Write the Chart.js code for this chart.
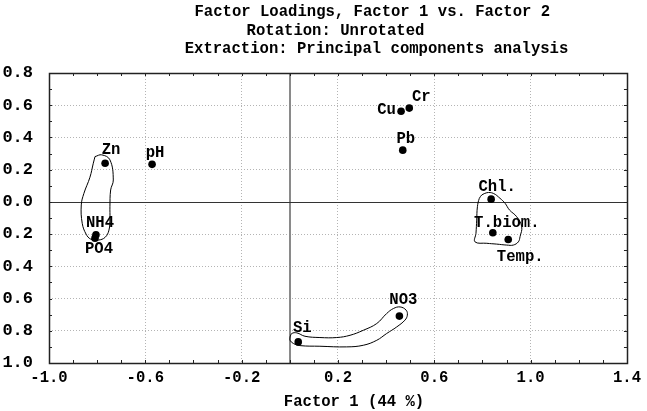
<!DOCTYPE html>
<html><head><meta charset="utf-8">
<script src="https://cdn.jsdelivr.net/npm/chart.js@4/dist/chart.umd.min.js"></script>
<style>
html,body{margin:0;padding:0;background:#fff;overflow:hidden;}
#wrap{position:relative;width:647px;height:411px;overflow:hidden;background:#fff;}
#c{position:absolute;left:-20px;top:0;}
</style></head><body>
<div id="wrap"><canvas id="c" width="667" height="411"></canvas></div>
<script>
// ---- data ----
const variables = ['Zn','pH','NH4','PO4','Cu','Cr','Pb','Chl.','T.biom.','Temp.','Si','NO3'];
const factor1 = [-0.767,-0.572,-0.805,-0.809,0.462,0.496,0.469,0.836,0.843,0.907,0.035,0.455];
const factor2 = [0.240,0.233,-0.204,-0.225,0.563,0.582,0.321,0.017,-0.192,-0.233,-0.869,-0.709];
const xTickLabels = ['-1.0','-0.6','-0.2','0.2','0.6','1.0','1.4'];
const yTickLabels = ['0.8','0.6','0.4','0.2','0.0','-0.2','-0.4','-0.6','-0.8','-1.0'];
const titleLines = ['Factor Loadings, Factor 1 vs. Factor 2','Rotation: Unrotated','Extraction: Principal components analysis'];
const xAxisTitle = 'Factor 1 (44 %)';
// hand-drawn group envelopes (data coordinates)
const envZnX = [-0.809,-0.781,-0.747,-0.733,-0.744,-0.747,-0.747,-0.751,-0.767,-0.795,-0.827,-0.846,-0.862,-0.866,-0.855,-0.830,-0.816,-0.809];
const envZnY = [0.281,0.292,0.261,0.136,0.074,-0.030,-0.102,-0.175,-0.220,-0.237,-0.231,-0.200,-0.133,-0.019,0.053,0.153,0.240,0.281];
const envChlX = [0.797,0.818,0.845,0.873,0.894,0.912,0.942,0.963,0.956,0.949,0.928,0.901,0.859,0.818,0.769,0.773,0.776,0.779,0.787,0.797];
const envChlY = [0.043,0.057,0.053,0.022,-0.009,-0.050,-0.092,-0.154,-0.216,-0.248,-0.268,-0.268,-0.262,-0.257,-0.248,-0.195,-0.113,-0.030,0.022,0.043];
const envSiX = [0.001,0.008,0.029,0.063,0.125,0.195,0.250,0.305,0.361,0.402,0.430,0.458,0.483,0.488,0.478,0.444,0.402,0.361,0.305,0.236,0.125,0.042,0.015,0.001,0.001];
const envSiY = [-0.838,-0.817,-0.813,-0.834,-0.842,-0.842,-0.828,-0.797,-0.755,-0.693,-0.662,-0.652,-0.672,-0.703,-0.734,-0.776,-0.817,-0.859,-0.890,-0.900,-0.896,-0.892,-0.879,-0.859,-0.838];

// ---- styles ----
const FAMILY = "'Liberation Mono','Courier New',monospace";
const FONT = "bold 15.6px " + FAMILY;
const labelOffsets = {'Zn':[6,-13],'pH':[3,-11],'NH4':[4,-12],'PO4':[4,11],'Cu':[-14.5,-1],'Cr':[12,-11],'Pb':[3,-11],'Chl.':[6,-12],'T.biom.':[14,-10],'Temp.':[12,18],'Si':[4,-14],'NO3':[4,-16]};
const titleCenters = [[392.3,12],[355.5,31],[396.5,49]];
const xTitlePos = [374,402];

const toXY = (xs, ys) => xs.map((v,i)=>({x:v,y:ys[i]}));
const findLabel = (arr, v) => arr.find(s => Math.abs(parseFloat(s) - v) < 1e-6);

function envelope(xs, ys){
  return {data: toXY(xs, ys), showLine:true, pointRadius:0, pointHoverRadius:0, borderColor:'#000', borderWidth:1, tension:0.4, fill:false};
}

const decor = {
  id:'decor',
  beforeDatasetsDraw(chart){
    const {ctx, chartArea:a, scales:{x,y}} = chart;
    ctx.save();
    const x0 = Math.round(x.getPixelForValue(0));
    const y0 = Math.round(y.getPixelForValue(0)) + 0.5;
    ctx.strokeStyle = '#8a8a8a'; ctx.lineWidth = 2;
    ctx.beginPath(); ctx.moveTo(x0, a.top); ctx.lineTo(x0, a.bottom); ctx.stroke();
    ctx.strokeStyle = '#333'; ctx.lineWidth = 1;
    ctx.beginPath(); ctx.moveTo(a.left, y0); ctx.lineTo(a.right, y0); ctx.stroke();
    ctx.restore();
  },
  afterDraw(chart){
    const {ctx, chartArea:a, scales:{x,y}} = chart;
    ctx.save();
    ctx.strokeStyle = '#222'; ctx.lineWidth = 1.5;
    ctx.strokeRect(Math.round(a.left)+0.5, Math.round(a.top)+0.5, Math.round(a.right-a.left), Math.round(a.bottom-a.top));
    ctx.lineWidth = 1; ctx.strokeStyle = '#222';
    ctx.beginPath();
    x.ticks.forEach(t => { const p = Math.round(x.getPixelForValue(t.value))+0.5;
      ctx.moveTo(p, a.bottom); ctx.lineTo(p, a.bottom-3);
      ctx.moveTo(p, a.top); ctx.lineTo(p, a.top+3); });
    y.ticks.forEach(t => { const p = Math.round(y.getPixelForValue(t.value))+0.5;
      ctx.moveTo(a.left, p); ctx.lineTo(a.left+3, p);
      ctx.moveTo(a.right, p); ctx.lineTo(a.right-3, p); });
    ctx.stroke();
    ctx.fillStyle = '#000'; ctx.font = FONT; ctx.textAlign = 'center'; ctx.textBaseline = 'middle';
    const meta = chart.getDatasetMeta(0);
    meta.data.forEach((el, i) => {
      const off = labelOffsets[variables[i]] || [0,-12];
      ctx.fillText(variables[i], el.x + off[0], el.y + off[1]);
    });
    titleLines.forEach((s, i) => ctx.fillText(s, titleCenters[i][0], titleCenters[i][1]));
    ctx.fillText(xAxisTitle, xTitlePos[0], xTitlePos[1]);
    ctx.restore();
  }
};

new Chart(document.getElementById('c'), {
  type:'scatter',
  data:{ datasets:[
    {data: toXY(factor1, factor2), pointRadius:3.8, pointHoverRadius:3.8, backgroundColor:'#000', borderColor:'#000', borderWidth:0},
    envelope(envZnX, envZnY),
    envelope(envChlX, envChlY),
    envelope(envSiX, envSiY)
  ]},
  options:{
    responsive:false, animation:false, events:[],
    layout:{padding:{top:73, right:20, left:0, bottom:0}},
    plugins:{legend:{display:false}, tooltip:{enabled:false}, title:{display:false}},
    scales:{
      x:{type:'linear', min:-1.0, max:1.4,
        afterFit(s){ s.height = 48; },
        border:{display:false, dash:[1,2]},
        grid:{drawTicks:false, lineWidth:1,
          color(c){ const v = c.tick ? c.tick.value : NaN; if (!(Math.abs(v) > 1e-6)) return 'transparent';
            if (Math.abs(v+1) < 1e-6 || Math.abs(v-1.4) < 1e-6) return 'transparent';
            return findLabel(xTickLabels, v) ? '#b4b4b4' : 'transparent'; }},
        ticks:{stepSize:0.1, autoSkip:false, maxRotation:0, padding:6, color:'#000', font:{family:FAMILY, size:15.6, weight:'bold'},
          callback(v){ return findLabel(xTickLabels, v) || ''; }}
      },
      y:{type:'linear', min:-1.0, max:0.8,
        afterFit(s){ s.width = 69; },
        border:{display:false, dash:[1,2]},
        grid:{drawTicks:false, lineWidth:1,
          color(c){ const v = c.tick ? c.tick.value : NaN; if (!(Math.abs(v) > 1e-6)) return 'transparent';
            if (Math.abs(v+1) < 1e-6 || Math.abs(v-0.8) < 1e-6) return 'transparent';
            return findLabel(yTickLabels, v) ? '#b4b4b4' : 'transparent'; }},
        ticks:{stepSize:0.1, autoSkip:false, padding:16, color:'#000', font:{family:FAMILY, size:17, weight:'bold'},
          callback(v){ return findLabel(yTickLabels, v) || ''; }}
      }
    }
  },
  plugins:[decor]
});
</script>
</body></html>
